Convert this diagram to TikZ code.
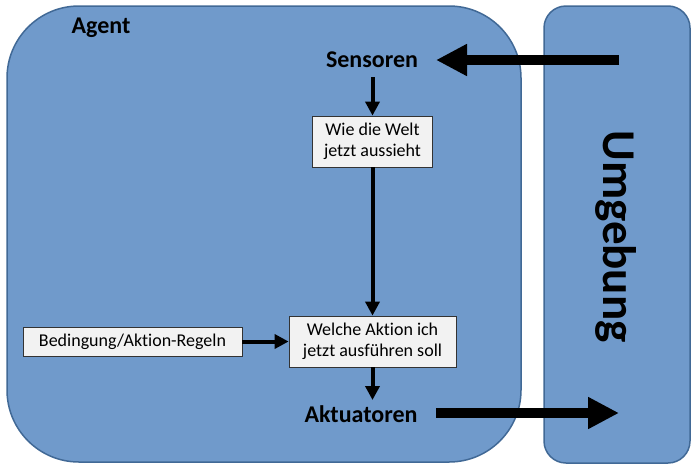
\documentclass[tikz,border=0pt]{standalone}
\usepackage{fontspec}
\setmainfont[Ligatures={NoCommon,NoRare}]{Carlito}
\usetikzlibrary{arrows.meta}
\definecolor{fillblue}{RGB}{112,154,203}
\definecolor{edgeblue}{RGB}{65,105,150}
\definecolor{boxgray}{RGB}{242,242,242}
\begin{document}
\begin{tikzpicture}[x=1pt,y=-1pt,
  panel/.style={draw=edgeblue,line width=1.5pt,fill=fillblue},
  textbox/.style={draw=black!80,line width=0.8pt,fill=boxgray,inner sep=0pt,align=center,font=\fontsize{18}{21}\selectfont},
  bigarrow/.style={line width=10pt,-{Triangle[length=31pt,width=30pt]}},
  smallarrow/.style={line width=4pt,-{Triangle[length=14pt,width=14pt]}},
  title/.style={font=\bfseries\fontsize{24}{28}\selectfont}]
\useasboundingbox (0,0) rectangle (692,464);
\fill[white] (0,0) rectangle (692,464);
\draw[panel,rounded corners=72pt] (7,6) rectangle (521,462);
\draw[panel,rounded corners=22pt] (544,6) rectangle (690,463);
\node[title,anchor=center] (agent) at (101,28) {Agent};
\node[title,anchor=center] (sens) at (372,60) {Sensoren};
\node[title,anchor=center] (akt) at (361,414) {Aktuatoren};
\node[font=\bfseries\fontsize{47}{52}\selectfont,rotate=-90,anchor=base,inner sep=0pt] (umg) at (603,236.5) {Umgebung};
\node[textbox,minimum width=120pt,minimum height=51pt] (wie) at (372.5,141.5) {Wie die Welt\\jetzt aussieht};
\node[textbox,minimum width=167pt,minimum height=51pt] (welche) at (372.5,341.5) {Welche Aktion ich\\jetzt ausführen soll};
\node[textbox,minimum width=219pt,minimum height=29pt] (bed) at (132.5,341.5) {Bedingung/Aktion-Regeln};
\coordinate (envin) at (619,60);
\coordinate (envout) at (619,413);
\coordinate (sensin) at (436,60);
\coordinate (aktout) at (436,413);
\coordinate (sensfoot) at (372.5,77);
\coordinate (aktfoot) at (372.5,400);
\draw[bigarrow] (envin) -- (sensin);
\draw[bigarrow] (aktout) -- (envout);
\draw[smallarrow] (sensfoot) -- (wie.north);
\draw[smallarrow] (wie.south) -- (welche.north);
\draw[smallarrow] (bed.east) -- (welche.west);
\draw[smallarrow] (welche.south) -- (aktfoot);
\end{tikzpicture}
\end{document}
